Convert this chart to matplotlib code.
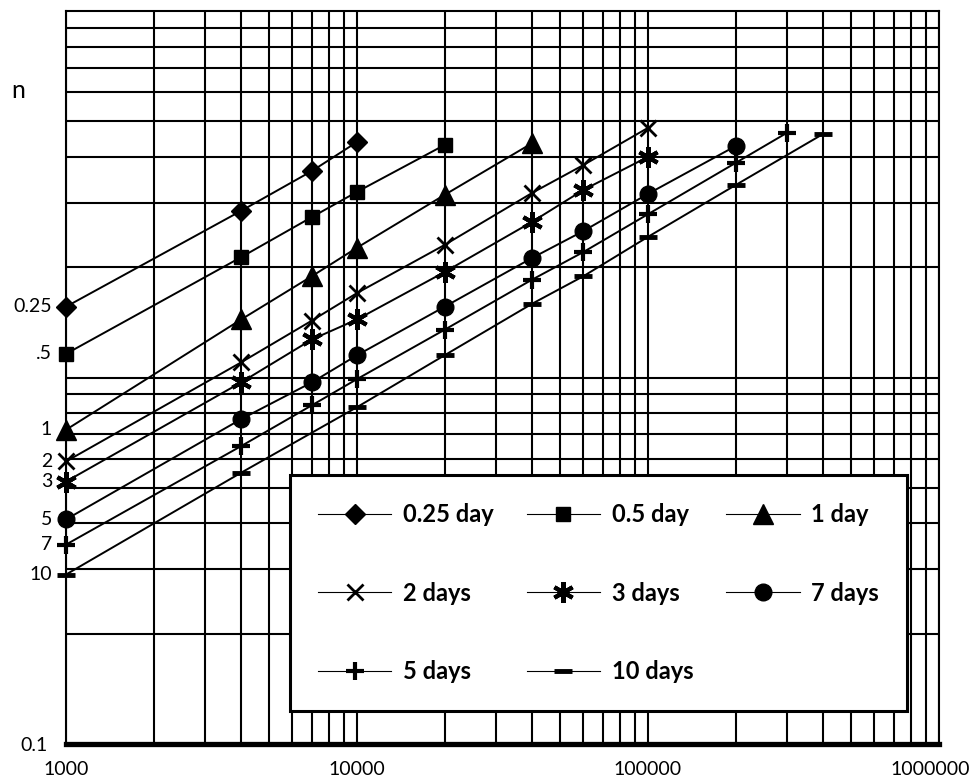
import matplotlib
matplotlib.use("Agg")
import matplotlib.pyplot as plt
from matplotlib.lines import Line2D
from matplotlib.ticker import FixedLocator, NullFormatter
from matplotlib.transforms import ScaledTranslation

plt.rcParams['font.family'] = ['Lato', 'DejaVu Sans']

# x positions of the readings
x_025 = [1000, 4000, 7000, 10000]
x_05 = [1000, 4000, 7000, 10000, 20000]
x_1 = [1000, 4000, 7000, 10000, 20000, 40000]
x_2 = [1000, 4000, 7000, 10000, 20000, 40000, 60000, 100000]
x_3 = [1000, 4000, 7000, 10000, 20000, 40000, 60000, 100000]
x_7 = [1000, 4000, 7000, 10000, 20000, 40000, 60000, 100000, 200000]
x_5 = [1000, 4000, 7000, 10000, 20000, 40000, 60000, 100000, 200000, 300000]
x_10 = [1000, 4000, 10000, 20000, 40000, 60000, 100000, 200000, 400000]

# n values
n_025 = [1.56, 2.85, 3.66, 4.39]
n_05 = [1.16, 2.13, 2.74, 3.21, 4.31]
n_1 = [0.72, 1.44, 1.89, 2.26, 3.15, 4.36]
n_2 = [0.59, 1.10, 1.43, 1.70, 2.30, 3.19, 3.80, 4.80]
n_3 = [0.52, 0.97, 1.27, 1.44, 1.94, 2.66, 3.25, 4.00]
n_7 = [0.41, 0.77, 0.97, 1.15, 1.56, 2.12, 2.51, 3.17, 4.28]
n_5 = [0.35, 0.65, 0.84, 0.99, 1.35, 1.85, 2.20, 2.79, 3.85, 4.65]
n_10 = [0.29, 0.55, 0.83, 1.15, 1.59, 1.89, 2.42, 3.35, 4.62]

legend_names = ['0.25 day', '0.5 day', '1 day', '2 days', '3 days',
                '7 days', '5 days', '10 days']
# labels written beside the first point of each line (as printed)
side_labels = ['0.25', '.5', '1', '2', '3', '5', '7', '10']
x_ticks = [1000, 10000, 100000, 1000000]

series = [
    (x_025, n_025, dict(marker='D', ms=10)),
    (x_05, n_05, dict(marker='s', ms=10)),
    (x_1, n_1, dict(marker='^', ms=15)),
    (x_2, n_2, dict(marker='x', ms=11, mew=2)),
    (x_3, n_3, dict(marker=(6, 2, 0), ms=15, mew=3)),
    (x_7, n_7, dict(marker='o', ms=12)),
    (x_5, n_5, dict(marker='+', ms=13, mew=3)),
    (x_10, n_10, dict(marker='_', ms=13, mew=3.5)),
]

fig = plt.figure(figsize=(9.76, 7.78), dpi=100)
ax = fig.add_axes([66 / 976, 34 / 778, 873 / 976, 733 / 778])
ax.set_xscale('log')
ax.set_yscale('log')
ax.set_xlim(1000, 1000000)
ax.set_ylim(0.1, 10)

# grid: every 1-9 subdivision on both axes
x_minor = [m * 10 ** e for e in range(3, 6) for m in range(2, 10)]
y_minor = [m * 10 ** e for e in (-1, 0) for m in range(2, 10)] + [1]
ax.xaxis.set_major_locator(FixedLocator(x_ticks))
ax.xaxis.set_minor_locator(FixedLocator(x_minor))
ax.set_xticklabels([str(v) for v in x_ticks])
ax.xaxis.set_minor_formatter(NullFormatter())
ax.yaxis.set_major_locator(FixedLocator([0.1]))
ax.yaxis.set_minor_locator(FixedLocator(y_minor))
ax.set_yticklabels(['0.1'])
ax.yaxis.set_minor_formatter(NullFormatter())
ax.tick_params(which='both', length=0, labelsize=14)
ax.tick_params(axis='x', pad=12)
ax.tick_params(axis='y', pad=13)
ax.grid(which='both', color='black', lw=1.5)
ax.set_axisbelow(True)

# pull the last x label back inside the picture
last = ax.get_xticklabels()[-1]
last.set_transform(last.get_transform()
                   + ScaledTranslation(-0.09, 0, fig.dpi_scale_trans))

for sp in ax.spines.values():
    sp.set_linewidth(1.5)
ax.spines['bottom'].set_linewidth(3.8)

handles = []
for (xs, ys, st), name, lab in zip(series, legend_names, side_labels):
    ax.plot(xs, ys, color='black', lw=1.4, mfc='black', mec='black',
            clip_on=False, zorder=3, **st)
    ax.annotate(lab, xy=(xs[0], ys[0]), xytext=(-10, 0),
                textcoords='offset points', ha='right', va='center',
                fontsize=14, annotation_clip=False)
    handles.append(Line2D([], [], color='black', lw=0.8, mfc='black',
                          mec='black', label=name, **st))

# legend reads row by row: reorder for matplotlib's column filling
order = [0, 3, 6, 1, 4, 7, 2, 5]
leg = ax.legend([handles[i] for i in order], [legend_names[i] for i in order],
                ncol=3, loc='center', bbox_to_anchor=(0.610, 0.206),
                prop={'weight': 'bold', 'size': 17}, handlelength=3.1,
                handletextpad=0.5, columnspacing=1.4, labelspacing=2.35,
                borderpad=1.2, frameon=True, fancybox=False, framealpha=1)
leg.get_frame().set_edgecolor('black')
leg.get_frame().set_linewidth(2.2)

fig.text(18 / 976, 1 - 90 / 778, 'n', fontsize=18, ha='center', va='center')

fig.savefig('out.png', dpi=100)
